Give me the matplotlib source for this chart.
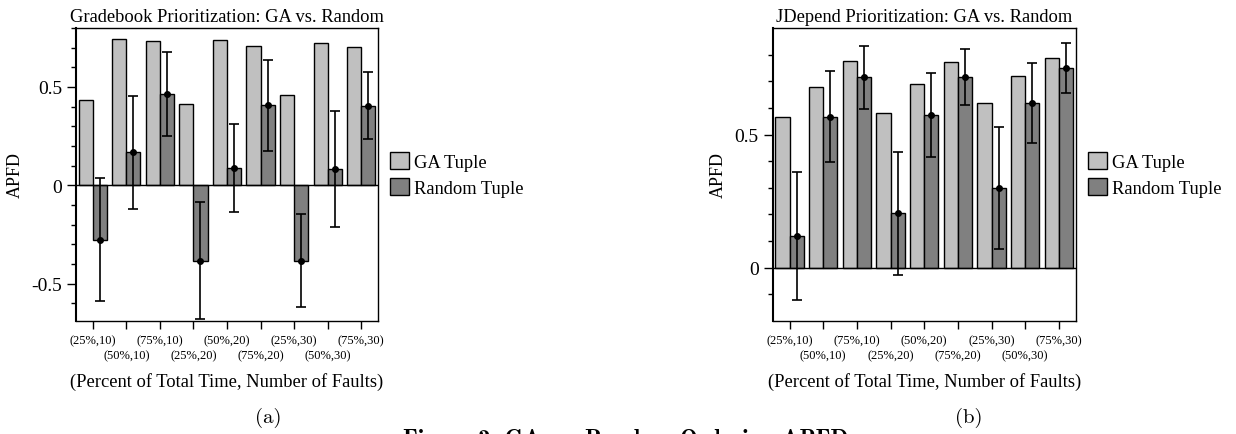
import matplotlib
matplotlib.use('Agg')
import matplotlib.pyplot as plt
import numpy as np

plt.rcParams['font.family'] = ['Liberation Serif', 'DejaVu Serif']
plt.rcParams['axes.unicode_minus'] = False

## data ##

groups = ['(25%,10)', '(50%,10)', '(75%,10)', '(25%,20)', '(50%,20)',
          '(75%,20)', '(25%,30)', '(50%,30)', '(75%,30)']

grade_ga = [0.432, 0.744, 0.734, 0.413, 0.739, 0.710, 0.459, 0.725, 0.705]
grade_rand = [-0.276, 0.167, 0.464, -0.383, 0.089, 0.406, -0.384, 0.082, 0.404]
grade_err = [0.313, 0.288, 0.214, 0.298, 0.223, 0.230, 0.237, 0.294, 0.170]

jdep_ga = [0.567, 0.677, 0.776, 0.582, 0.690, 0.774, 0.617, 0.718, 0.789]
jdep_rand = [0.120, 0.567, 0.715, 0.204, 0.572, 0.715, 0.299, 0.620, 0.751]
jdep_err = [0.240, 0.172, 0.118, 0.231, 0.158, 0.105, 0.230, 0.150, 0.094]

ga_color = '#c0c0c0'
rand_color = '#808080'

fig = plt.figure(figsize=(12.36, 4.35), dpi=100)


def draw_panel(ax, title, ga, rand, err, ylim, ylab_x):
    x = np.arange(len(groups))
    w = 0.42
    ax.bar(x - w / 2, ga, w, color=ga_color, edgecolor='black', linewidth=1,
           label='GA Tuple', zorder=2)
    ax.bar(x + w / 2, rand, w, color=rand_color, edgecolor='black', linewidth=1,
           label='Random Tuple', zorder=2)
    ax.errorbar(x + w / 2, rand, yerr=err, fmt='o', color='black', ms=4,
                elinewidth=1.2, capsize=3.5, capthick=1.2, zorder=3)
    ax.axhline(0, color='black', lw=1, zorder=2.5)

    # staggered labels: even groups on first row, odd groups on second row
    ax.set_xticks(x[::2])
    ax.set_xticklabels(groups[::2], fontsize=9)
    ax.set_xticks(x[1::2], minor=True)
    ax.set_xticklabels(groups[1::2], fontsize=9, minor=True)
    ax.tick_params(axis='x', which='major', direction='out', length=6, width=1, pad=3.5)
    ax.tick_params(axis='x', which='minor', direction='out', length=6, width=1, pad=14.5)

    lo, hi = ylim
    major = [v for v in [-0.5, 0, 0.5] if lo <= v <= hi]
    ax.set_yticks(major)
    ax.set_yticklabels(['%g' % v for v in major], fontsize=14)
    minor = [round(v, 1) for v in np.arange(-0.6, 0.85, 0.1)
             if lo <= v <= hi and round(v, 1) not in major]
    ax.yaxis.set_ticks(minor, minor=True)
    ax.tick_params(axis='y', which='major', direction='out', length=6.5, width=1)
    ax.tick_params(axis='y', which='minor', direction='out', length=3.5, width=1)
    ax.set_xlim(-0.5, len(groups) - 0.5)
    ax.set_ylim(lo, hi)
    for s in ax.spines.values():
        s.set_linewidth(1)
    ax.spines['left'].set_linewidth(1.5)

    ax.set_title(title, fontsize=13.3, pad=5)
    ax.set_ylabel('APFD', fontsize=13)
    ax.yaxis.set_label_coords(ylab_x, 0.5)
    ax.text(0.5, -0.204, '(Percent of Total Time, Number of Faults)',
            transform=ax.transAxes, ha='center', va='center', fontsize=13.3)
    ax.legend(loc='center left', bbox_to_anchor=(1.04, 0.5), frameon=False,
              fontsize=13.3, borderpad=0, handlelength=1.05, handleheight=1.05,
              handletextpad=0.25, labelspacing=0.4, borderaxespad=0)


ax1 = fig.add_axes([0.0615, 0.2598, 0.2443, 0.6736])
draw_panel(ax1, 'Gradebook Prioritization: GA vs. Random',
           grade_ga, grade_rand, grade_err, (-0.69, 0.80), -0.172)

ax2 = fig.add_axes([0.6252, 0.2598, 0.2451, 0.6736])
draw_panel(ax2, 'JDepend Prioritization: GA vs. Random',
           jdep_ga, jdep_rand, jdep_err, (-0.2, 0.9), -0.151)

fig.text(0.2168, 0.039, '(a)', family='cmr10', fontsize=15, ha='center', va='center')
fig.text(0.784, 0.039, '(b)', family='cmr10', fontsize=15, ha='center', va='center')
fig.text(0.506, -0.025, 'Figure 2: GA vs. Random Ordering APFD', family='cmb10',
         fontsize=17, ha='center', va='baseline')

fig.savefig('out.png', dpi=100)
